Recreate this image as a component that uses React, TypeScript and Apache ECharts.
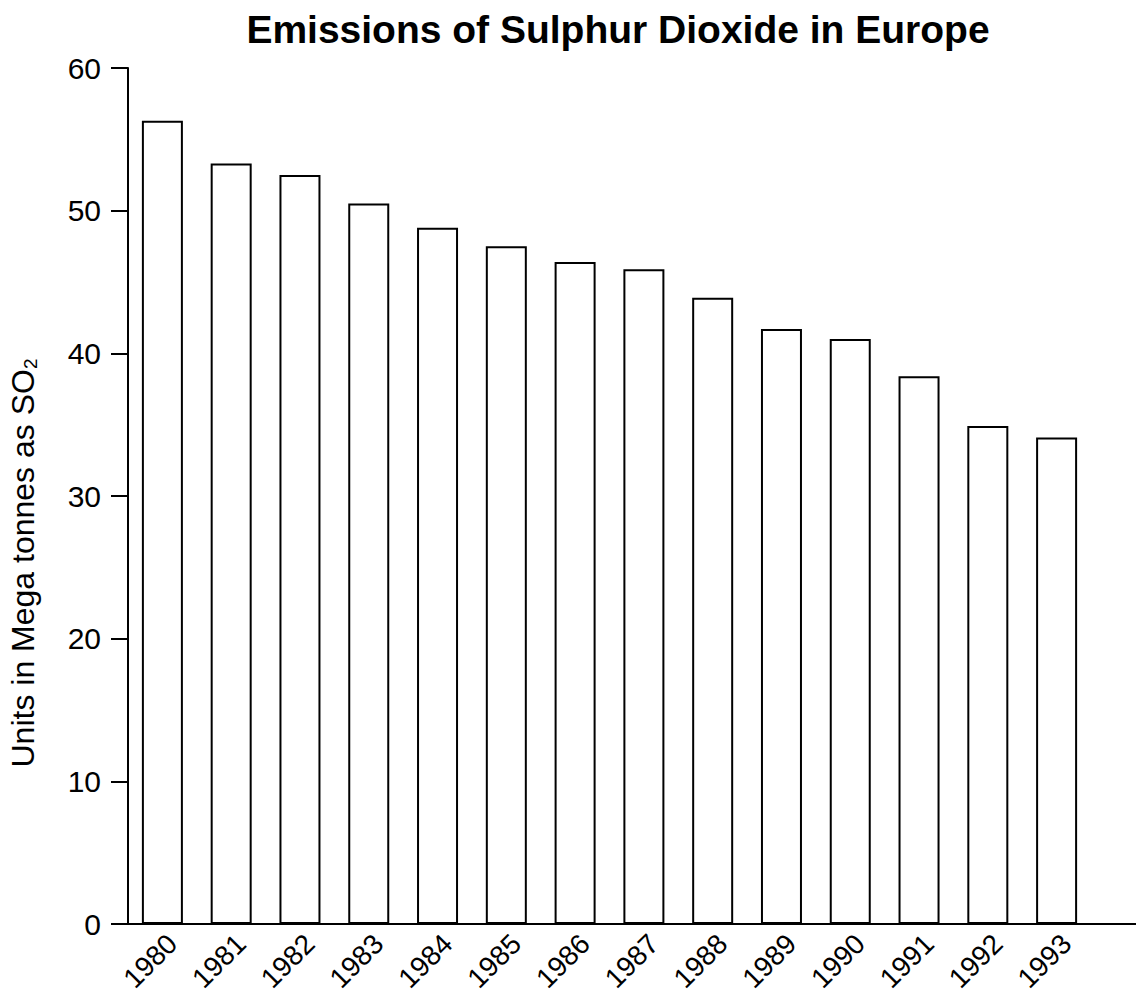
import React, { useEffect, useRef } from "react";
import * as echarts from "echarts";

const years = ["1980", "1981", "1982", "1983", "1984", "1985", "1986", "1987", "1988", "1989", "1990", "1991", "1992", "1993"];
const emissions = [56.3, 53.3, 52.5, 50.5, 48.8, 47.5, 46.4, 45.9, 43.9, 41.7, 41.0, 38.4, 34.9, 34.1];
const yMin = 0;
const yMax = 60;
const yInterval = 10;

const FONT = "'Liberation Sans', Arial, Helvetica, sans-serif";

export default function App() {
  const ref = useRef<HTMLDivElement>(null);
  useEffect(() => {
    if (!ref.current) return;
    const chart = echarts.init(ref.current, undefined, { renderer: "svg" });
    const W = chart.getWidth();
    const H = chart.getHeight();
    const gridLeft = 128;
    const gridRight = 45;
    const gridTop = 68;
    const axisYTarget = 924;
    const gridBottom = H - axisYTarget;
    chart.setOption({
      animation: false,
      backgroundColor: "#ffffff",
      title: {
        text: "Emissions of Sulphur Dioxide in Europe",
        left: 613,
        top: 5,
        textAlign: "center",
        textStyle: { fontFamily: FONT, fontSize: 39, fontWeight: "bold", color: "#000" },
      },
      grid: {
        left: gridLeft,
        right: gridRight,
        top: gridTop,
        bottom: gridBottom,
        containLabel: false,
        outerBoundsMode: "none",
      },
      xAxis: {
        type: "category",
        data: years,
        axisLine: { show: true, lineStyle: { color: "#000", width: 2 } },
        axisTick: { show: false },
        axisLabel: {
          rotate: 45,
          fontFamily: FONT,
          fontSize: 28,
          color: "#000",
          margin: 5,
          align: "right",
          verticalAlign: "top",
        },
        splitLine: { show: false },
      },
      yAxis: {
        type: "value",
        min: yMin,
        max: yMax,
        interval: yInterval,
        axisLine: { show: true, lineStyle: { color: "#000", width: 2 } },
        axisTick: { show: true, inside: false, length: 17, lineStyle: { color: "#000", width: 2 } },
        axisLabel: { fontFamily: FONT, fontSize: 30, color: "#000", margin: 27 },
        splitLine: { show: false },
      },
      series: [
        {
          type: "bar",
          data: emissions,
          barWidth: 41,
          itemStyle: { color: "#ffffff", borderColor: "#000", borderWidth: 2 },
        },
      ],
    });
    const y0 = chart.convertToPixel({ yAxisIndex: 0 }, 0) as number;
    chart.setOption({
      graphic: [
        {
          type: "line",
          shape: { x1: W - gridRight - 1, y1: y0, x2: W, y2: y0 },
          style: { stroke: "#000", lineWidth: 2 },
          silent: true,
        },
        {
          type: "text",
          x: 23,
          y: 563,
          rotation: Math.PI / 2,
          style: {
            text: "Units in Mega tonnes as SO{sub|2}",
            fontFamily: FONT,
            fontSize: 32,
            fill: "#000",
            align: "center",
            verticalAlign: "middle",
            rich: {
              sub: { fontFamily: FONT, fontSize: 19, fill: "#000", padding: [14, 0, 0, 0] },
            },
          },
        },
      ],
    });
    return () => chart.dispose();
  }, []);
  return (
    <div
      ref={ref}
      style={{ position: "fixed", left: 0, top: 0, width: 1136, height: 991, background: "#fff" }}
    />
  );
}
